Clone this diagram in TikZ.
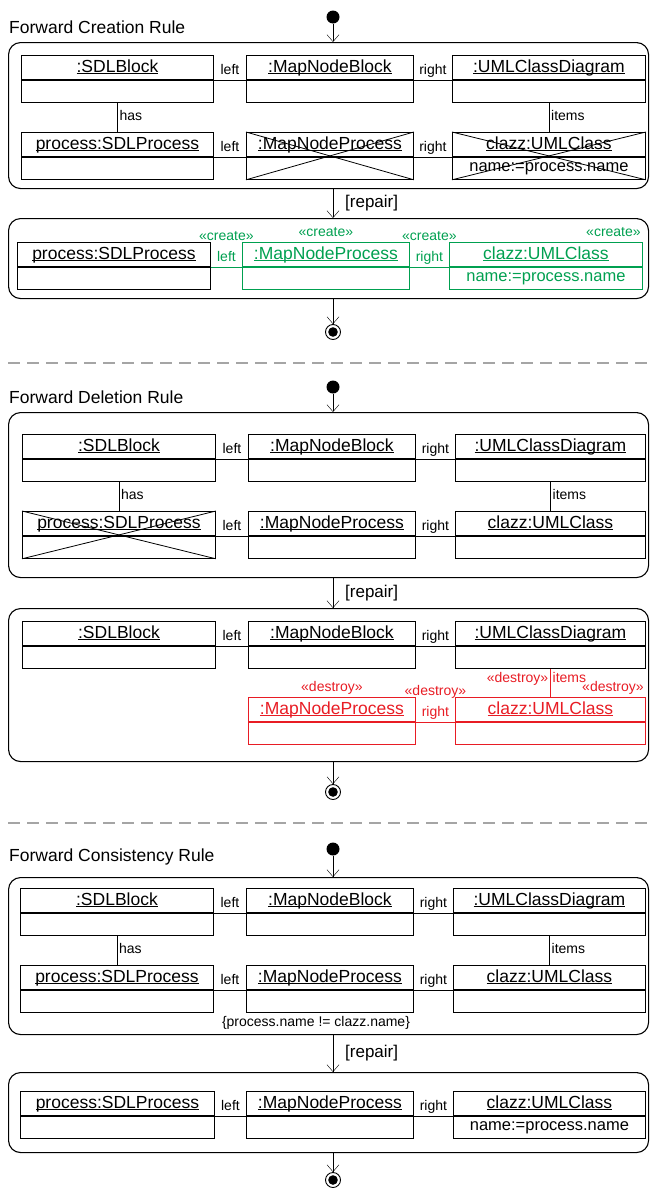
\documentclass[tikz,border=0pt]{standalone}
\usepackage{fontspec}
\setmainfont{Liberation Sans}
\usetikzlibrary{arrows.meta}
\definecolor{creategreen}{RGB}{0,160,80}
\definecolor{destroyred}{RGB}{232,28,36}
\definecolor{sepgray}{RGB}{165,165,165}
\tikzset{>={Straight Barb[length=7pt,width=12pt]}}
\tikzset{
  hdr/.style={draw,line width=0.9pt,inner sep=0pt,anchor=north west,font=\fontsize{17.5}{20}\selectfont},
  lbl/.style={inner sep=2pt,text height=10pt,text depth=3pt,font=\fontsize{14}{16}\selectfont},
  guard/.style={anchor=west,inner sep=0pt,font=\fontsize{17}{20}\selectfont},
  ruletitle/.style={anchor=west,inner sep=0pt,font=\fontsize{17.5}{20}\selectfont},
  rulebox/.style={draw,line width=1.1pt,rounded corners=12pt,anchor=north west,inner sep=0pt},
  startnode/.style={circle,fill,inner sep=0pt,minimum size=13pt},
  endnode/.style={circle,draw,fill=white,inner sep=0pt,minimum size=15pt,line width=0.9pt},
  divider/.style={sepgray,line width=1.6pt,dash pattern=on 12pt off 7pt},
  strike/.style={line width=0.8pt},
  crt/.style={creategreen},
  del/.style={destroyred},
}
\newcommand{\objname}[1]{\setbox0\hbox{#1}\rlap{\rule[-1.6pt]{\wd0}{0.7pt}}\box0}
\newcommand{\umlobj}[7]{%
  \node[hdr,#2,minimum width=#5,minimum height=24,text height=13pt,text depth=3pt] (#1) at (#3,#4) {\objname{#6}};
  \node[hdr,#2,minimum width=#5,minimum height=22,font=\fontsize{16.5}{19}\selectfont] (#1-b) at (#1.south west) {#7};}
\begin{document}
\begin{tikzpicture}[x=1pt,y=-1pt]
\useasboundingbox (0,0) rectangle (649,1189);

\node[ruletitle] (t1) at (9,27) {Forward Creation Rule};
\node[startnode] (st1) at (333,17) {};
\node[rulebox,minimum width=640,minimum height=146] (r1) at (8,42) {};
\umlobj{sdl1}{}{21}{55}{192}{:SDLBlock}{}
\umlobj{mnb1}{}{246}{55}{167}{:MapNodeBlock}{}
\umlobj{ucd1}{}{452}{55}{193}{:UMLClassDiagram}{}
\umlobj{proc1}{}{21}{132}{192}{process:SDLProcess}{}
\umlobj{mnp1}{}{246}{132}{167}{:MapNodeProcess}{}
\umlobj{cls1}{}{452}{132}{193}{clazz:UMLClass}{name:=process.name}
\draw[strike] (mnp1.north west) -- (mnp1-b.south east);
\draw[strike] (mnp1.north east) -- (mnp1-b.south west);
\draw[strike] (cls1.north west) -- (cls1-b.south east);
\draw[strike] (cls1.north east) -- (cls1-b.south west);
\draw[->] (st1) -- (st1 |- r1.north);
\draw (sdl1.south east) -- node[lbl,above]{left} (mnb1.south west);
\draw (mnb1.south east) -- node[lbl,above]{right} (ucd1.south west);
\draw (proc1.south east) -- node[lbl,above]{left} (mnp1.south west);
\draw (mnp1.south east) -- node[lbl,above]{right} (cls1.south west);
\draw (sdl1-b.south) -- node[lbl,right]{has} (proc1.north);
\draw (ucd1-b.south) -- node[lbl,right]{items} (cls1.north);

\node[rulebox,minimum width=640,minimum height=80] (r2) at (8,218) {};
\draw[->] (r1.south -| st1) -- node[guard,xshift=12pt]{[repair]} (r2.north -| st1);
\umlobj{proc2}{}{17}{242}{193}{process:SDLProcess}{}
\umlobj{mnp2}{crt}{242}{242}{167}{:MapNodeProcess}{}
\umlobj{cls2}{crt}{449}{242}{193}{clazz:UMLClass}{name:=process.name}
\draw[crt] (proc2.south east) -- node[lbl,above]{left} node[lbl,above,yshift=21pt]{«create»} (mnp2.south west);
\draw[crt] (mnp2.south east) -- node[lbl,above]{right} node[lbl,above,yshift=21pt]{«create»} (cls2.south west);
\node[lbl,crt,above] (mnp2-st) at (mnp2.north) {«create»};
\node[lbl,crt,above left] (cls2-st) at (cls2.north east) {«create»};
\node[endnode] (fn1) at (333,332) {};
\fill (fn1.center) circle (4.8pt);
\draw[->] (r2.south -| fn1) -- (fn1);

\draw[divider] (8,363) -- (649,363);

\node[ruletitle] (t2) at (9,397) {Forward Deletion Rule};
\node[startnode] (st2) at (333,387) {};
\node[rulebox,minimum width=640,minimum height=165] (r3) at (8,412) {};
\umlobj{sdl3}{}{22}{434}{193}{:SDLBlock}{}
\umlobj{mnb3}{}{248}{434}{167}{:MapNodeBlock}{}
\umlobj{ucd3}{}{455}{434}{190}{:UMLClassDiagram}{}
\umlobj{proc3}{}{22}{511}{193}{process:SDLProcess}{}
\umlobj{mnp3}{}{248}{511}{167}{:MapNodeProcess}{}
\umlobj{cls3}{}{455}{511}{190}{clazz:UMLClass}{}
\draw[strike] (proc3.north west) -- (proc3-b.south east);
\draw[strike] (proc3.north east) -- (proc3-b.south west);
\draw[->] (st2) -- (st2 |- r3.north);
\draw (sdl3.south east) -- node[lbl,above]{left} (mnb3.south west);
\draw (mnb3.south east) -- node[lbl,above]{right} (ucd3.south west);
\draw (proc3.south east) -- node[lbl,above]{left} (mnp3.south west);
\draw (mnp3.south east) -- node[lbl,above]{right} (cls3.south west);
\draw (sdl3-b.south) -- node[lbl,right]{has} (proc3.north);
\draw (ucd3-b.south) -- node[lbl,right]{items} (cls3.north);

\node[rulebox,minimum width=640,minimum height=153] (r4) at (8,608) {};
\draw[->] (r3.south -| st2) -- node[guard,xshift=12pt]{[repair]} (r4.north -| st2);
\umlobj{sdl4}{}{22}{621}{193}{:SDLBlock}{}
\umlobj{mnb4}{}{248}{621}{167}{:MapNodeBlock}{}
\umlobj{ucd4}{}{455}{621}{190}{:UMLClassDiagram}{}
\umlobj{mnp4}{del}{248}{697}{167}{:MapNodeProcess}{}
\umlobj{cls4}{del}{455}{697}{190}{clazz:UMLClass}{}
\draw (sdl4.south east) -- node[lbl,above]{left} (mnb4.south west);
\draw (mnb4.south east) -- node[lbl,above]{right} (ucd4.south west);
\draw[del] (mnp4.south east) -- node[lbl,above]{right} node[lbl,above,yshift=21pt]{«destroy»} (cls4.south west);
\draw[del] (ucd4-b.south) -- node[lbl,right,pos=0.35]{items} node[lbl,left,pos=0.35]{«destroy»} (cls4.north);
\node[lbl,del,above] (mnp4-st) at (mnp4.north) {«destroy»};
\node[lbl,del,above left] (cls4-st) at (cls4.north east) {«destroy»};
\node[endnode] (fn2) at (333,792) {};
\fill (fn2.center) circle (4.8pt);
\draw[->] (r4.south -| fn2) -- (fn2);

\draw[divider] (8,823) -- (649,823);

\node[ruletitle] (t3) at (9,857) {Forward Consistency Rule};
\node[startnode] (st3) at (333,849) {};
\node[rulebox,minimum width=640,minimum height=157] (r5) at (8,877) {};
\umlobj{sdl5}{}{20}{888}{193}{:SDLBlock}{}
\umlobj{mnb5}{}{246}{888}{167}{:MapNodeBlock}{}
\umlobj{ucd5}{}{453}{888}{192}{:UMLClassDiagram}{}
\umlobj{proc5}{}{20}{965}{193}{process:SDLProcess}{}
\umlobj{mnp5}{}{246}{965}{167}{:MapNodeProcess}{}
\umlobj{cls5}{}{453}{965}{192}{clazz:UMLClass}{}
\draw[->] (st3) -- (st3 |- r5.north);
\draw (sdl5.south east) -- node[lbl,above]{left} (mnb5.south west);
\draw (mnb5.south east) -- node[lbl,above]{right} (ucd5.south west);
\draw (proc5.south east) -- node[lbl,above]{left} (mnp5.south west);
\draw (mnp5.south east) -- node[lbl,above]{right} (cls5.south west);
\draw (sdl5-b.south) -- node[lbl,right]{has} (proc5.north);
\draw (ucd5-b.south) -- node[lbl,right]{items} (cls5.north);
\node[lbl] (cons5) at (316,1023) {\{process.name != clazz.name\}};

\node[rulebox,minimum width=640,minimum height=80] (r6) at (8,1072) {};
\draw[->] (r5.south -| st3) -- node[guard,xshift=12pt]{[repair]} (r6.north -| st3);
\umlobj{proc6}{}{20}{1091}{194}{process:SDLProcess}{}
\umlobj{mnp6}{}{246}{1091}{167}{:MapNodeProcess}{}
\umlobj{cls6}{}{453}{1091}{192}{clazz:UMLClass}{name:=process.name}
\draw (proc6.south east) -- node[lbl,above]{left} (mnp6.south west);
\draw (mnp6.south east) -- node[lbl,above]{right} (cls6.south west);
\node[endnode] (fn3) at (333,1180) {};
\fill (fn3.center) circle (4.8pt);
\draw[->] (r6.south -| fn3) -- (fn3);
\end{tikzpicture}
\end{document}
